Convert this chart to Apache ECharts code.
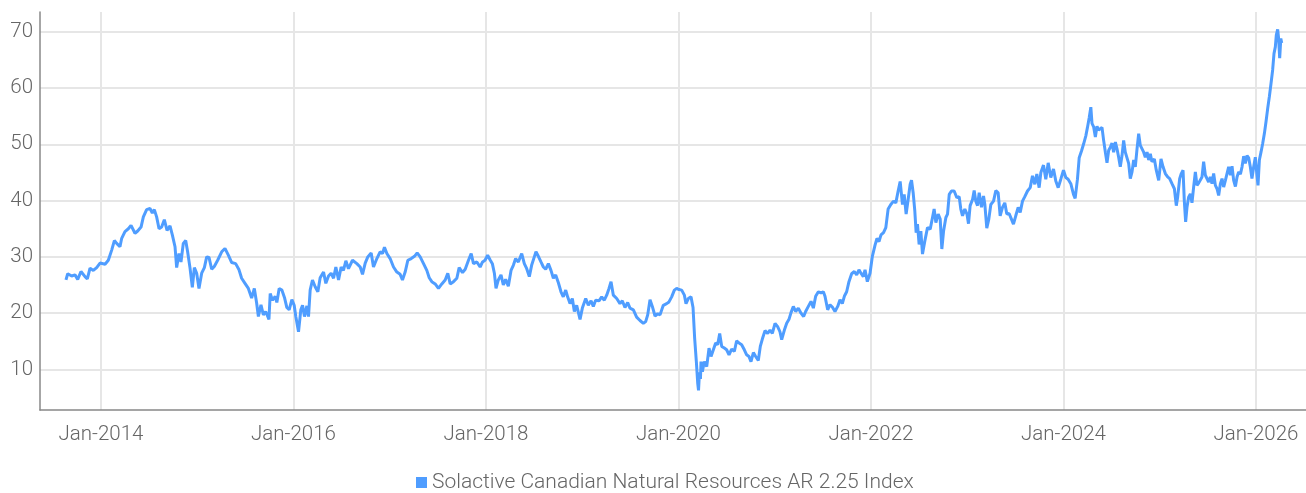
<!DOCTYPE html>
<html>
<head>
<meta charset="utf-8">
<script src="https://cdn.jsdelivr.net/npm/echarts@6/dist/echarts.min.js"></script>
<style>html,body{margin:0;padding:0;background:#fff}#c{width:1306px;height:493px}</style>
</head>
<body>
<div id="c"></div>
<script>
// decimal-year positions of the samples
const years = [
2013.636,2013.654,2013.695,2013.730,2013.758,2013.792,2013.834,2013.858,2013.886,2013.920,2013.955,2013.990,
2014.042,2014.076,2014.111,2014.139,2014.163,2014.197,2014.215,2014.249,2014.284,2014.312,2014.353,2014.381,2014.416,2014.440,2014.474,2014.509,2014.533,2014.554,2014.578,2014.603,2014.630,2014.658,2014.686,2014.717,2014.741,2014.769,2014.786,2014.810,2014.831,2014.855,2014.880,2014.900,2014.925,2014.949,2014.970,2014.994,
2015.018,2015.046,2015.074,2015.098,2015.122,2015.150,2015.177,2015.212,2015.254,2015.288,2015.323,2015.358,2015.399,2015.434,2015.461,2015.496,2015.531,2015.565,2015.593,2015.617,2015.635,2015.662,2015.687,2015.711,2015.745,
2015.758,2015.782,2015.810,2015.827,2015.851,2015.879,2015.906,2015.931,2015.955,2015.983,
2016.007,2016.024,2016.052,2016.076,2016.094,2016.114,2016.139,2016.156,2016.173,2016.197,2016.225,2016.253,2016.277,2016.312,2016.336,2016.364,2016.391,2016.416,2016.440,2016.468,2016.495,2016.519,2016.544,2016.571,2016.613,2016.658,2016.693,2016.717,2016.745,2016.772,2016.807,2016.831,2016.866,2016.900,2016.925,2016.945,2016.970,
2017.004,2017.039,2017.074,2017.108,2017.132,2017.160,2017.188,2017.223,2017.257,2017.285,2017.316,2017.351,2017.385,2017.410,2017.437,2017.472,2017.506,2017.541,2017.576,2017.603,2017.628,2017.662,2017.697,2017.721,2017.756,2017.784,2017.818,2017.846,2017.870,2017.905,2017.939,2017.964,2017.990,
2018.017,2018.042,2018.066,2018.087,2018.104,2018.128,2018.156,2018.180,2018.204,2018.232,2018.260,2018.284,2018.308,2018.336,2018.371,2018.398,2018.423,2018.450,2018.474,2018.502,2018.519,2018.544,2018.571,2018.596,2018.620,2018.648,2018.675,2018.700,2018.724,2018.752,2018.779,2018.803,2018.828,2018.848,2018.873,2018.897,2018.918,2018.942,2018.977,
2019.001,2019.036,2019.063,2019.091,2019.115,2019.139,2019.174,2019.202,2019.229,2019.254,2019.278,2019.299,2019.323,2019.358,2019.392,2019.416,2019.444,2019.472,2019.496,2019.531,2019.565,2019.600,2019.635,2019.659,2019.680,2019.704,2019.728,2019.756,2019.784,2019.808,2019.842,2019.877,2019.901,2019.929,2019.957,2019.981,
2020.005,2020.033,2020.061,2020.078,2020.102,2020.130,2020.151,2020.168,2020.185,2020.200,2020.208,2020.218,2020.228,2020.234,2020.248,2020.268,2020.293,2020.317,2020.338,2020.362,2020.386,2020.407,2020.428,2020.449,2020.476,2020.500,2020.525,2020.552,2020.580,2020.604,2020.629,2020.656,2020.684,2020.708,2020.732,2020.753,2020.778,2020.802,2020.829,2020.850,2020.871,2020.899,2020.926,2020.951,2020.975,
2021.003,2021.030,2021.054,2021.072,2021.100,2021.124,2021.148,2021.169,2021.193,2021.217,2021.245,2021.273,2021.300,2021.321,2021.349,2021.377,2021.401,2021.425,2021.453,2021.481,2021.505,2021.522,2021.550,2021.574,2021.598,2021.626,2021.654,2021.678,2021.702,2021.723,2021.747,2021.771,2021.799,2021.827,2021.851,2021.875,2021.896,2021.920,2021.938,2021.962,2021.990,
2022.014,2022.042,2022.062,2022.083,2022.104,2022.130,2022.154,2022.178,2022.206,2022.234,2022.258,2022.282,2022.303,2022.327,2022.345,2022.365,2022.386,2022.407,2022.421,2022.438,2022.455,2022.469,2022.483,2022.500,2022.518,2022.535,2022.559,2022.587,2022.615,2022.639,2022.656,2022.674,2022.698,2022.719,2022.736,2022.754,2022.778,2022.795,2022.813,2022.836,2022.864,2022.892,2022.916,2022.933,2022.951,2022.975,2022.997,
2023.013,2023.030,2023.055,2023.072,2023.089,2023.107,2023.124,2023.148,2023.169,2023.183,2023.203,2023.224,2023.245,2023.273,2023.297,2023.321,2023.342,2023.366,2023.390,2023.411,2023.435,2023.459,2023.480,2023.504,2023.529,2023.550,2023.574,2023.598,2023.626,2023.654,2023.678,2023.702,2023.723,2023.747,2023.765,2023.792,2023.816,2023.841,2023.868,2023.896,2023.920,2023.945,2023.972,
2024.000,2024.024,2024.048,2024.076,2024.104,2024.121,2024.145,2024.163,2024.187,2024.208,2024.232,2024.249,2024.267,2024.284,2024.296,2024.313,2024.331,2024.348,2024.365,2024.383,2024.400,2024.417,2024.435,2024.452,2024.469,2024.487,2024.504,2024.521,2024.539,2024.556,2024.573,2024.590,2024.608,2024.625,2024.642,2024.660,2024.677,2024.694,2024.712,2024.729,2024.746,2024.764,2024.781,2024.798,2024.816,2024.833,2024.850,2024.868,2024.885,2024.902,2024.919,2024.944,2024.964,2024.989,
2025.013,2025.034,2025.058,2025.082,2025.103,2025.127,2025.152,2025.172,2025.186,2025.207,2025.224,2025.242,2025.255,2025.269,2025.283,2025.300,2025.318,2025.335,2025.352,2025.370,2025.387,2025.404,2025.422,2025.439,2025.456,2025.474,2025.491,2025.508,2025.526,2025.543,2025.560,2025.578,2025.595,2025.612,2025.630,2025.647,2025.664,2025.682,2025.699,2025.716,2025.734,2025.751,2025.768,2025.786,2025.803,2025.820,2025.838,2025.855,2025.872,2025.889,2025.907,2025.924,2025.941,2025.958,2025.976,2025.993,
2026.010,2026.021,2026.035,2026.052,2026.069,2026.087,2026.104,2026.121,2026.139,2026.156,2026.173,2026.187,2026.201,2026.211,2026.225,2026.235,2026.246,2026.258,2026.267
];
// index level at each sample
const values = [
25.9,27.0,26.6,26.8,26.0,27.4,26.5,26.1,28.0,27.6,28.1,28.9,
28.7,29.4,31.2,32.9,32.4,31.8,33.3,34.5,35.0,35.6,34.2,34.6,35.3,37.1,38.4,38.6,37.8,38.4,37.1,35.0,35.3,36.6,34.7,35.5,33.9,31.8,28.1,30.6,29.1,32.4,32.9,30.9,28.0,24.6,28.1,27.1,
24.4,27.1,28.1,30.0,29.9,27.8,28.3,29.4,30.9,31.5,30.3,29.0,28.8,27.7,26.2,25.3,24.4,22.7,24.4,21.8,19.4,21.5,19.7,20.3,18.9,
23.5,22.3,23.0,21.9,24.4,24.1,22.8,21.0,20.6,22.4,
21.4,19.4,16.7,20.6,21.4,19.4,21.3,19.4,24.1,25.9,24.7,23.8,26.3,27.3,25.3,26.6,27.1,26.2,28.2,25.9,28.2,27.6,29.3,27.9,29.4,28.8,28.2,26.9,28.9,30.0,30.7,28.2,29.7,30.9,30.6,31.7,30.6,
29.7,28.2,27.3,26.9,25.9,27.3,29.4,29.7,30.1,30.7,30.0,28.8,27.6,26.3,25.6,25.2,24.4,25.2,25.9,27.1,25.2,25.6,26.2,28.1,27.2,27.8,29.4,30.6,28.8,29.1,28.2,29.1,29.4,
30.3,29.5,28.8,27.1,24.4,25.9,26.8,25.0,26.0,24.8,27.6,28.5,29.7,29.1,30.6,28.8,27.9,26.5,28.5,30.0,30.9,30.1,29.1,28.2,27.8,28.8,27.6,26.2,26.8,25.4,23.8,22.9,24.1,22.9,21.7,22.6,20.3,21.4,18.9,
20.9,22.6,21.4,22.2,21.2,22.3,22.2,22.9,22.3,23.2,24.4,25.6,23.2,22.6,21.7,22.2,21.0,21.9,20.9,20.6,19.3,18.7,18.2,18.5,19.7,22.4,21.2,19.5,19.9,19.7,21.4,21.7,22.0,22.9,24.1,24.4,
24.2,24.1,23.2,21.7,22.6,22.9,21.0,15.5,11.5,7.5,6.3,9.5,8.3,11.4,9.6,11.4,10.5,13.8,12.3,13.5,14.7,14.4,16.4,14.1,13.8,13.5,12.6,13.6,13.2,15.1,14.7,14.4,13.5,12.6,12.3,11.4,13.0,12.3,11.6,14.1,15.4,16.9,16.4,17.0,16.4,
18.2,17.6,16.7,15.3,17.0,18.2,18.9,20.1,21.2,20.3,20.9,20.0,19.4,20.3,21.2,22.1,20.9,23.0,23.8,23.6,23.8,23.0,20.6,21.5,21.1,20.3,21.2,22.4,21.7,23.0,23.8,25.6,27.0,27.4,26.8,27.7,27.1,26.5,27.7,25.6,27.1,
30.1,32.1,33.3,32.7,33.9,34.3,35.2,38.5,39.3,39.9,39.6,41.7,43.4,39.3,41.1,37.6,40.2,42.9,43.6,41.4,38.2,34.3,35.8,32.2,34.6,30.5,32.8,35.2,34.9,37.0,38.5,36.1,37.6,36.7,31.4,34.6,37.0,37.6,41.1,41.7,41.7,40.5,40.7,38.5,37.3,38.5,37.6,
35.9,39.1,40.2,41.8,39.9,39.1,41.4,38.8,40.8,39.3,35.1,36.7,39.3,39.9,41.8,41.4,37.3,38.8,39.6,37.6,37.7,36.7,35.8,37.3,38.8,37.9,39.9,40.7,41.7,42.3,44.4,42.9,44.7,42.3,45.0,46.3,43.8,46.7,44.1,45.6,43.5,42.3,43.8,
45.4,44.1,43.8,43.0,41.1,40.4,43.8,47.6,48.8,50.0,51.5,53.0,54.7,56.6,53.7,53.1,51.3,53.2,52.5,52.8,53.0,50.7,48.6,46.7,48.9,49.5,50.2,48.6,50.4,49.2,47.7,46.0,48.0,50.7,48.6,48.9,46.6,43.9,45.1,47.2,46.0,49.2,51.9,49.8,50.1,48.6,47.7,48.6,47.2,48.3,46.9,47.4,45.4,43.6,
47.4,46.0,44.8,44.2,43.9,43.0,42.1,39.1,40.6,43.9,44.8,45.4,40.0,36.2,38.8,40.6,41.2,39.6,42.4,45.1,42.7,43.1,42.9,44.2,46.9,44.5,44.2,43.3,44.2,43.0,44.8,42.7,42.1,40.9,43.0,43.9,42.4,43.6,44.8,46.0,44.5,46.1,43.6,42.5,44.2,45.1,44.7,46.0,47.9,46.6,48.0,47.6,46.0,43.9,46.0,47.7,
44.5,42.7,47.2,48.6,50.1,51.9,54.0,56.3,58.5,60.8,63.2,66.1,67.3,69.4,70.4,68.8,65.3,68.8,68.0
];
const seriesName = 'Solactive Canadian Natural Resources AR 2.25 Index';
const xTickYears = [2014, 2016, 2018, 2020, 2022, 2024, 2026];
const yTicks = [10, 20, 30, 40, 50, 60, 70];

const chart = echarts.init(document.getElementById('c'), null, {renderer: 'canvas'});
const font = 'Roboto, "Noto Sans", sans-serif';
chart.setOption({
  animation: false,
  backgroundColor: '#ffffff',
  grid: {left: 40, right: 0, top: 12, bottom: 83, containLabel: false},
  legend: {
    data: [seriesName], left: 411, top: 467, icon: 'rect', itemWidth: 11, itemHeight: 11, itemGap: 10,
    textStyle: {fontFamily: font, fontSize: 21, fontWeight: 300, color: '#666666'}
  },
  xAxis: {
    type: 'value', min: 2013.3662, max: 2026.5195,
    axisLine: {show: true, onZero: false, lineStyle: {color: '#888888', width: 1.5}},
    axisTick: {show: false, customValues: xTickYears},
    axisLabel: {customValues: xTickYears, formatter: v => 'Jan-' + v, margin: 14,
      fontFamily: font, fontSize: 20.5, fontWeight: 300, color: '#666666'},
    splitLine: {show: true, lineStyle: {color: '#e6e6e6', width: 2}}
  },
  yAxis: {
    type: 'value', min: 2.8, max: 73.5,
    axisLine: {show: true, lineStyle: {color: '#888888', width: 1.5}},
    axisTick: {show: false, customValues: yTicks},
    axisLabel: {customValues: yTicks, margin: 7, fontFamily: font, fontSize: 20.5, fontWeight: 300, color: '#666666'},
    splitLine: {show: true, lineStyle: {color: '#e6e6e6', width: 2}}
  },
  series: [{
    name: seriesName, type: 'line', showSymbol: false, symbol: 'none',
    data: years.map((y, i) => [y, values[i]]),
    lineStyle: {color: '#4f9dff', width: 3}, itemStyle: {color: '#4f9dff'}
  }]
});
</script>
</body>
</html>
